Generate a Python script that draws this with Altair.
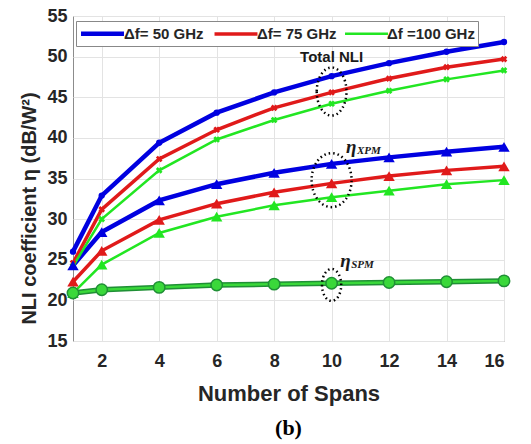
import altair as alt
import pandas as pd

spans = [1, 2, 4, 6, 8, 10, 12, 14, 16]
spacings = ["Δf= 50 GHz", "Δf= 75 GHz", "Δf =100 GHz"]
colors = ["#0000e0", "#e01a1a", "#22e622"]

total_50 = [26.0, 32.9, 39.4, 43.1, 45.6, 47.6, 49.2, 50.6, 51.8]
total_75 = [24.6, 31.2, 37.4, 41.0, 43.7, 45.6, 47.3, 48.7, 49.7]
total_100 = [24.2, 30.0, 36.0, 39.8, 42.2, 44.2, 45.8, 47.2, 48.3]
xpm_50 = [24.3, 28.4, 32.3, 34.3, 35.7, 36.8, 37.6, 38.3, 38.9]
xpm_75 = [22.3, 26.1, 29.9, 31.9, 33.3, 34.4, 35.3, 36.0, 36.5]
xpm_100 = [20.9, 24.4, 28.3, 30.3, 31.7, 32.7, 33.5, 34.3, 34.8]
spm = [20.9, 21.3, 21.6, 21.9, 22.0, 22.1, 22.2, 22.3, 22.4]

y_ticks = [15, 20, 25, 30, 35, 40, 45, 50, 55]
x_ticks = [2, 4, 6, 8, 10, 12, 14, 16]

rows = []
for sp, tot, xpm in zip(spacings, [total_50, total_75, total_100], [xpm_50, xpm_75, xpm_100]):
    for x, y in zip(spans, tot):
        rows.append({"x": x, "y": y, "spacing": sp, "kind": "Total"})
    for x, y in zip(spans, xpm):
        rows.append({"x": x, "y": y, "spacing": sp, "kind": "XPM"})
df = pd.DataFrame(rows)
spm_df = pd.DataFrame({"x": spans, "y": spm})

# annotation ellipses (data coords of centres)
ell_total = pd.DataFrame({"x": [10], "y": [45.7]})
ell_xpm = pd.DataFrame({"x": [10], "y": [34.8]})
ell_spm = pd.DataFrame({"x": [10], "y": [21.9]})

lbl_total = pd.DataFrame({"x": [10], "y": [49.9], "t": ["Total NLI"]})
lbl_xpm = pd.DataFrame({"x": [10.5], "y": [38.9], "t": ["η"], "s": ["XPM"]})
lbl_spm = pd.DataFrame({"x": [10.3], "y": [24.9], "t": ["η"], "s": ["SPM"]})

xs = alt.X("x:Q", scale=alt.Scale(domain=[1, 16], nice=False, zero=False),
           axis=alt.Axis(values=x_ticks, title="Number of Spans", titlePadding=13,
                         labelPadding=11))
ys = alt.Y("y:Q", scale=alt.Scale(domain=[15, 55], nice=False, zero=False),
           axis=alt.Axis(values=y_ticks, title="NLI coefficient η (dB/W²)",
                         titleX=-44, titleY=192, titleBaseline="middle", titleFontSize=20,
                         labelPadding=6))
col = alt.Color("spacing:N", scale=alt.Scale(domain=spacings, range=colors),
                legend=alt.Legend(title=None, orient="none", direction="horizontal",
                                  legendX=3, legendY=5, symbolType="M -3 0 L 3 0",
                                  symbolSize=205, symbolStrokeWidth=6, symbolOffset=14,
                                  labelFont="Liberation Sans", labelFontSize=15,
                                  labelFontWeight="bold", labelColor="#262626",
                                  labelOffset=12, columnPadding=3, padding=3,
                                  fillColor="white", strokeColor="#888888"))
sw = alt.StrokeWidth("spacing:N", scale=alt.Scale(domain=spacings, range=[4.5, 2.5, 2.5]), legend=None)

base = alt.Chart(df)
lines = base.mark_line().encode(x=xs, y=ys, color=col, strokeWidth=sw, detail="kind:N")
tot_blue = base.transform_filter((alt.datum.kind == "Total") & (alt.datum.spacing == spacings[0])).mark_point(
    shape="circle", filled=True, size=40, opacity=1).encode(x=xs, y=ys, color=col)
tot_other = base.transform_filter((alt.datum.kind == "Total") & (alt.datum.spacing != spacings[0])).mark_point(
    shape="cross", angle=45, filled=True, size=45, opacity=1).encode(x=xs, y=ys, color=col)
xpm_pts = base.transform_filter(alt.datum.kind == "XPM").mark_point(
    shape="triangle-up", filled=True, size=130, opacity=1).encode(x=xs, y=ys, color=col)

spm_base = alt.Chart(spm_df)
spm_outer = spm_base.mark_line(color="#1f8f35", strokeWidth=5.5).encode(x=xs, y=ys)
spm_inner = spm_base.mark_line(color="#3ad83a", strokeWidth=2.5).encode(x=xs, y=ys)
spm_pts = spm_base.mark_point(shape="circle", filled=True, fill="#3ad83a", stroke="#1f8f35",
                              strokeWidth=1.5, size=130, opacity=1).encode(x=xs, y=ys)

def ellipse(d, rx, size):
    path = f"M -{rx} 0 A {rx} 1 0 1 0 {rx} 0 A {rx} 1 0 1 0 -{rx} 0 Z"
    return alt.Chart(d).mark_point(shape=path, size=size, filled=False, color="black",
                                   strokeWidth=2.5, strokeDash=[1.5, 3], opacity=1).encode(x=xs, y=ys)

e1 = ellipse(ell_total, 0.62, 2304)
e2 = ellipse(ell_xpm, 0.74, 2916)
e3 = ellipse(ell_spm, 0.6, 1024)

t1 = alt.Chart(lbl_total).mark_text(font="Liberation Sans", fontSize=15, fontWeight="bold",
                                    color="#1a1a1a").encode(x=xs, y=ys, text="t:N")
t2a = alt.Chart(lbl_xpm).mark_text(font="Liberation Serif", fontSize=19, fontWeight="bold",
                                   fontStyle="italic", align="left", color="#1a1a1a").encode(x=xs, y=ys, text="t:N")
t2b = alt.Chart(lbl_xpm).mark_text(font="Liberation Serif", fontSize=11, fontWeight="bold",
                                   fontStyle="italic", align="left", dx=11, dy=4, color="#1a1a1a").encode(x=xs, y=ys, text="s:N")
t3a = alt.Chart(lbl_spm).mark_text(font="Liberation Serif", fontSize=19, fontWeight="bold",
                                   fontStyle="italic", align="left", color="#1a1a1a").encode(x=xs, y=ys, text="t:N")
t3b = alt.Chart(lbl_spm).mark_text(font="Liberation Serif", fontSize=11, fontWeight="bold",
                                   fontStyle="italic", align="left", dx=11, dy=4, color="#1a1a1a").encode(x=xs, y=ys, text="s:N")

chart = alt.layer(
    lines, tot_blue, tot_other, xpm_pts, spm_outer, spm_inner, spm_pts,
    e1, e2, e3, t1, t2a, t2b, t3a, t3b
).properties(
    width=431, height=325,
    autosize=alt.AutoSizeParams(type="none"),
    padding={"left": 73, "top": 16, "right": 27, "bottom": 103},
    title=alt.TitleParams(text="(b)", orient="bottom", font="Liberation Serif", fontSize=22,
                          fontWeight="bold", color="black", offset=14),
).configure_view(
    stroke="#8c8c8c", strokeWidth=1
).configure_axis(
    grid=True, gridColor="#e3e3e3", gridWidth=1, domain=False, ticks=False,
    labelFont="Liberation Sans", labelFontSize=18, labelFontWeight="bold", labelColor="#262626",
    titleFont="Liberation Sans", titleFontSize=22, titleFontWeight="bold", titleColor="#262626",
)

chart.save("out.html", embed_options={"renderer": "svg", "actions": False})
